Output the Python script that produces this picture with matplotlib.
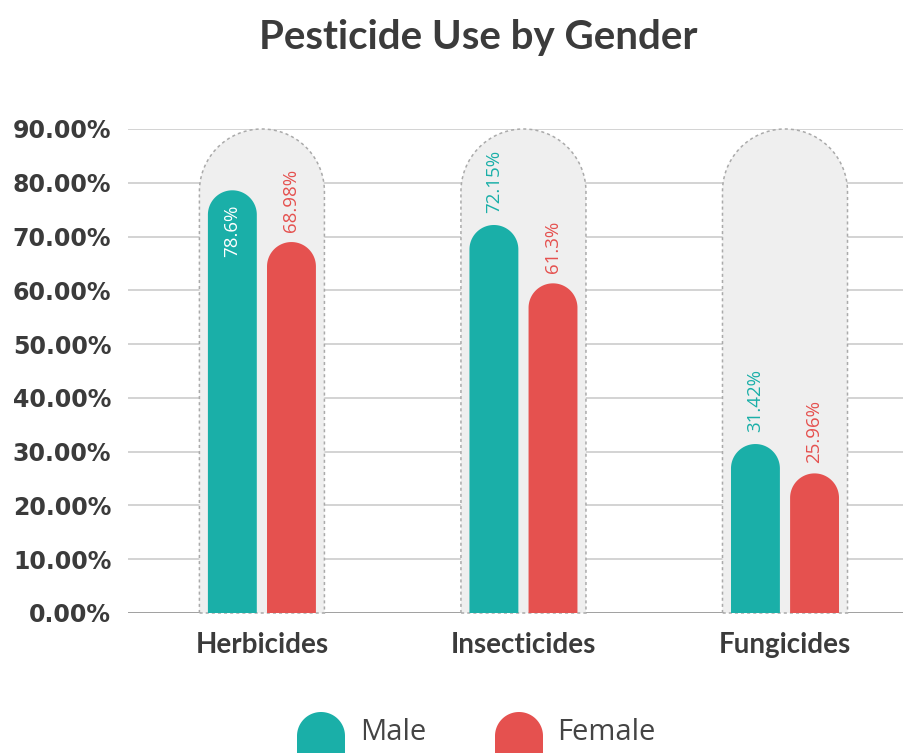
import matplotlib
matplotlib.use("Agg")
import matplotlib.pyplot as plt
from matplotlib.path import Path
from matplotlib.patches import PathPatch
import numpy as np

# ---- data ----
categories = ["Herbicides", "Insecticides", "Fungicides"]
male = [78.6, 72.15, 31.42]
female = [68.98, 61.3, 25.96]
male_labels = ["78.6%", "72.15%", "31.42%"]
female_labels = ["68.98%", "61.3%", "25.96%"]
label_inside = [True, False, False]
yticks = [0, 10, 20, 30, 40, 50, 60, 70, 80, 90]
ytick_labels = ["0.00%", "10.00%", "20.00%", "30.00%", "40.00%", "50.00%",
                "60.00%", "70.00%", "80.00%", "90.00%"]
series_names = ["Male", "Female"]
bg_height = 90

TEAL = "#1aafa8"
RED = "#e5514f"
DARK = "#3b3b3b"

W, H = 904, 753
fig = plt.figure(figsize=(W / 100, H / 100), dpi=100)
fig.patch.set_facecolor("white")

ax_l, ax_r, ax_top, ax_bot = 128, 904, 129, 613
ax = fig.add_axes([ax_l / W, 1 - ax_bot / H, (ax_r - ax_l) / W, (ax_bot - ax_top) / H])
xmin, xmax = -0.512, 2.455
ymin, ymax = 0, 90
ax.set_xlim(xmin, xmax)
ax.set_ylim(ymin, ymax)

px_x = (ax_r - ax_l) / (xmax - xmin)
px_y = (ax_bot - ax_top) / (ymax - ymin)


def dome(xc, width, height):
    rx = width / 2
    ry = rx * px_x / px_y
    t = np.linspace(np.pi, 0, 60)
    verts = [(xc - rx, 0), (xc - rx, height - ry)]
    verts += [(xc + rx * np.cos(a), height - ry + ry * np.sin(a)) for a in t]
    verts += [(xc + rx, 0), (xc - rx, 0)]
    codes = [Path.MOVETO] + [Path.LINETO] * (len(verts) - 2) + [Path.CLOSEPOLY]
    return Path(verts, codes)


# grid
for yt in yticks:
    ax.axhline(yt, color="#999999" if yt == 0 else "#d0d0d0", lw=1.3, zorder=1)

bar_w = 0.187
off = 0.113
bg_w = 0.478
x = np.arange(len(categories))

for i in x:
    ax.add_patch(PathPatch(dome(i, bg_w, bg_height), facecolor="#efefef",
                           edgecolor="#aaaaaa", lw=1.1, linestyle=(0, (2, 2)),
                           zorder=2, clip_on=False))
    ax.add_patch(PathPatch(dome(i - off, bar_w, male[i]), facecolor=TEAL,
                           edgecolor="none", zorder=3))
    ax.add_patch(PathPatch(dome(i + off, bar_w, female[i]), facecolor=RED,
                           edgecolor="none", zorder=3))
    lab_font = dict(family=["Open Sans", "DejaVu Sans"], fontsize=13.5, rotation=90, ha="center")
    if label_inside[i]:
        ax.text(i - off, male[i] - 14 / px_y, male_labels[i], color="white",
                va="top", zorder=4, **lab_font)
    else:
        ax.text(i - off, male[i] + 12 / px_y, male_labels[i], color=TEAL,
                va="bottom", zorder=4, **lab_font)
    ax.text(i + off, female[i] + 10 / px_y, female_labels[i], color=RED,
            va="bottom", zorder=4, **lab_font)

ax.set_yticks(yticks)
ax.set_yticklabels(ytick_labels, family="DejaVu Sans", fontweight="bold",
                   fontsize=17, color=DARK)
ax.set_xticks(x)
ax.set_xticklabels(categories, family=["Lato", "DejaVu Sans"],
                   fontweight="bold", fontsize=20, color=DARK)
ax.tick_params(axis="y", length=0, pad=12)
ax.tick_params(axis="x", length=0, pad=14)
for s in ax.spines.values():
    s.set_visible(False)
ax.set_facecolor("none")

fig.text(478 / W, 1 - 38 / H, "Pesticide Use by Gender", ha="center", va="center",
         family=["Lato", "DejaVu Sans"], fontweight="bold",
         fontsize=29, color=DARK)

# legend overlay in pixel coords
lax = fig.add_axes([0, 0, 1, 1])
lax.set_xlim(0, W)
lax.set_ylim(H, 0)
lax.axis("off")
leg_colors = [TEAL, RED]
leg_marker_x = [297, 495]
leg_text_x = [360, 557]
for name, c, mx, tx in zip(series_names, leg_colors, leg_marker_x, leg_text_x):
    r = 24
    t = np.linspace(np.pi, 0, 60)
    verts = [(mx, 770), (mx, 712 + r)]
    verts += [(mx + r + r * np.cos(a), 712 + r - r * np.sin(a)) for a in t]
    verts += [(mx + 2 * r, 770), (mx, 770)]
    codes = [Path.MOVETO] + [Path.LINETO] * (len(verts) - 2) + [Path.CLOSEPOLY]
    lax.add_patch(PathPatch(Path(verts, codes), facecolor=c, edgecolor="none"))
    lax.text(tx, 733, name, ha="left", va="center", fontsize=21,
             family=["Open Sans", "DejaVu Sans"], color="#444444")

fig.savefig("out.png", dpi=100)
